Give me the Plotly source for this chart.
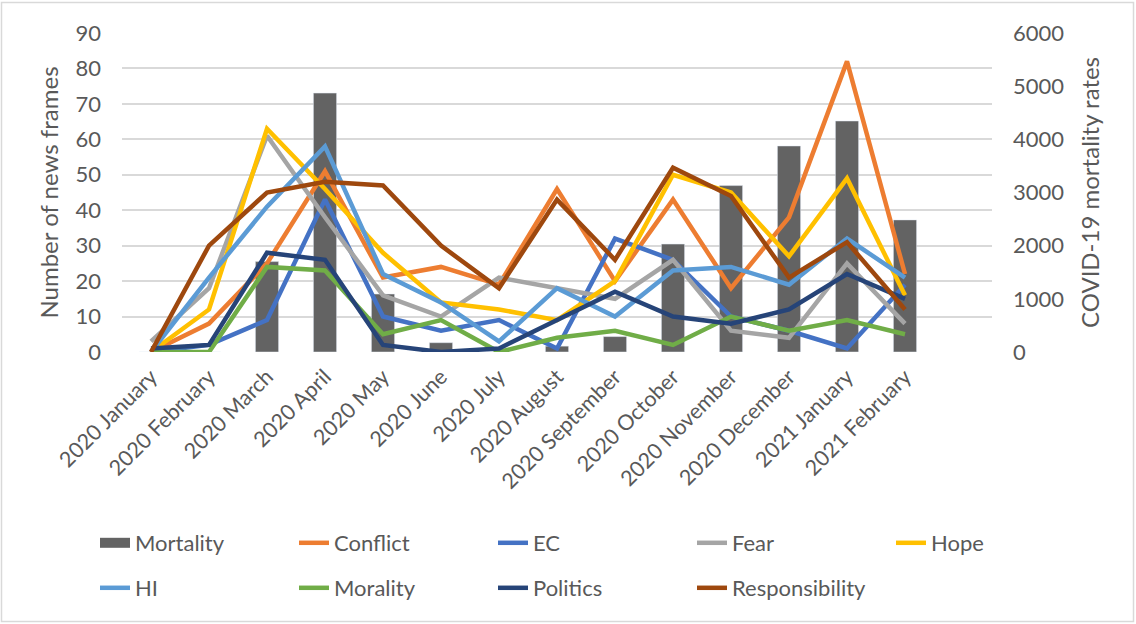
import plotly.graph_objects as go

months = ["2020 January", "2020 February", "2020 March", "2020 April", "2020 May",
          "2020 June", "2020 July", "2020 August", "2020 September", "2020 October",
          "2020 November", "2020 December", "2021 January", "2021 February"]

mortality = [0, 0, 1700, 4870, 1090, 175, 0, 110, 290, 2030, 3130, 3875, 4345, 2485]
conflict = [0, 8, 25, 51, 21, 24, 19, 46, 20, 43, 18, 38, 82, 22]
ec = [0, 2, 9, 43, 10, 6, 9, 1, 32, 26, 10, 6, 1, 19]
fear = [3, 18, 61, 38, 16, 10, 21, 18, 15, 26, 6, 4, 25, 8]
hope = [0, 12, 63, 46, 28, 14, 12, 9, 20, 50, 45, 27, 49, 16]
hi = [0, 21, 41, 58, 22, 14, 3, 18, 10, 23, 24, 19, 32, 21]
morality = [0, 0, 24, 23, 5, 9, 0, 4, 6, 2, 10, 6, 9, 5]
politics = [1, 2, 28, 26, 2, 0, 1, 9, 17, 10, 8, 12, 22, 15]
responsibility = [0, 30, 45, 48, 47, 30, 18, 43, 26, 52, 44, 21, 31, 12]

left_ticks = [0, 10, 20, 30, 40, 50, 60, 70, 80, 90]
right_ticks = [0, 1000, 2000, 3000, 4000, 5000, 6000]

series = [
    ("Conflict", conflict, "#ED7D31", "legend"),
    ("EC", ec, "#4472C4", "legend"),
    ("Fear", fear, "#A5A5A5", "legend"),
    ("Hope", hope, "#FFC000", "legend"),
    ("HI", hi, "#5B9BD5", "legend2"),
    ("Morality", morality, "#70AD47", "legend2"),
    ("Politics", politics, "#264478", "legend2"),
    ("Responsibility", responsibility, "#9E480E", "legend2"),
]

FONT = "Lato"
TXT = "#595959"
BAR = "#636363"
x = list(range(len(months)))

W, H = 1136, 624
L, R, T, B = 122, 992, 33, 352
pw, ph = R - L, B - T

def px2paper_x(p):
    return (p - L) / pw

def px2paper_y(p):
    return (B - p) / ph

fig = go.Figure()
fig.add_trace(go.Bar(x=x, y=mortality, name="Mortality", marker_color=BAR,
                     width=0.4, yaxis="y", showlegend=False))
# legend swatch for the bar series (wide rectangle like the original)
fig.add_trace(go.Scatter(x=[None], y=[None], name="Mortality", mode="lines",
                         line=dict(color=BAR, width=10), legend="legend",
                         legendrank=1, yaxis="y"))
for i, (name, vals, col, lg) in enumerate(series):
    fig.add_trace(go.Scatter(x=x, y=vals, name=name, mode="lines", yaxis="y2",
                             line=dict(color=col, width=4.5), legend=lg,
                             legendrank=2 + i))

leg_common = dict(orientation="h", xanchor="left", yanchor="top",
                  entrywidth=154, entrywidthmode="pixels", itemwidth=30,
                  font=dict(size=22, color=TXT), tracegroupgap=0,
                  bgcolor="rgba(0,0,0,0)")

fig.update_layout(
    width=W, height=H,
    margin=dict(l=L, r=W - R, t=T, b=H - B),
    paper_bgcolor="white", plot_bgcolor="white",
    font=dict(family=FONT, size=22, color=TXT),
    xaxis=dict(range=[-0.5, 14.5], tickvals=x, ticktext=months, tickangle=-45,
               showgrid=False, showline=False, zeroline=False, ticks="",
               ticklabelstandoff=7,
               tickfont=dict(size=21.5, color=TXT)),
    yaxis=dict(side="right", range=[0, 6000], tickvals=right_ticks, showgrid=False,
               zeroline=False, showline=False, ticks="", ticklabelstandoff=20,
               title=dict(text="COVID-19 mortality rates", standoff=18,
                          font=dict(size=24, color=TXT)),
               tickfont=dict(size=22, color=TXT)),
    yaxis2=dict(side="left", overlaying="y", range=[0, 90], tickvals=left_ticks,
                showgrid=True, gridcolor="#D9D9D9", gridwidth=1.5, zeroline=False,
                showline=False, ticks="", ticklabelstandoff=20,
                title=dict(text="Number of news frames", standoff=10,
                           font=dict(size=24, color=TXT)),
                tickfont=dict(size=22, color=TXT)),
    legend=dict(x=px2paper_x(95), y=px2paper_y(522), **leg_common),
    legend2=dict(x=px2paper_x(95), y=px2paper_y(567), **leg_common),
    shapes=[dict(type="rect", xref="paper", yref="paper",
                 x0=px2paper_x(1.5), x1=px2paper_x(1133.5),
                 y0=px2paper_y(621.5), y1=px2paper_y(2.5),
                 line=dict(color="#D9D9D9", width=1.5), fillcolor="rgba(0,0,0,0)",
                 layer="below")],
)

fig.write_html("out.html")
